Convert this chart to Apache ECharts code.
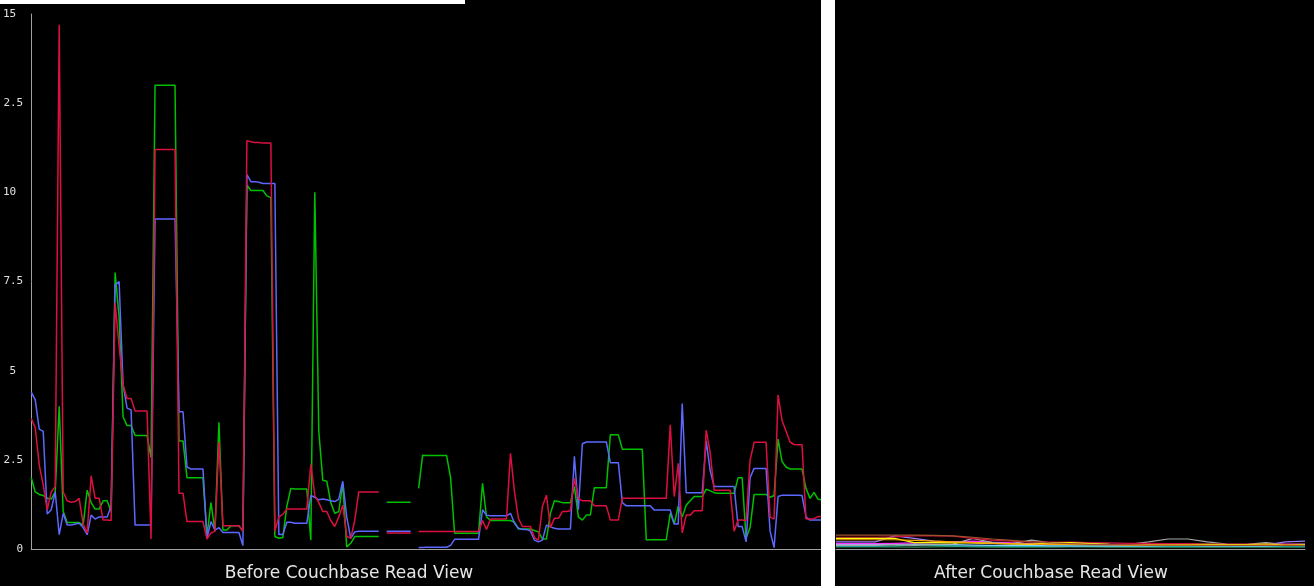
<!DOCTYPE html>
<html>
<head>
<meta charset="utf-8">
<script src="https://cdn.jsdelivr.net/npm/echarts@6/dist/echarts.min.js"></script>
<style>
  html, body { margin: 0; padding: 0; background: #000; }
  #chart { width: 1314px; height: 586px; }
</style>
</head>
<body>
<div id="chart"></div>
<script>
// tick labels as they show on the left axis (the "1" of 12.5 is cut off in the source)
var yTickValues = [0, 2.5, 5, 7.5, 10, 12.5, 15];
var yTickLabels = ['0', '2.5', '5', '7.5', '10', '2.5', '15'];
// these sit a bit further left than the others in the screenshot
var yShiftedTicks = [5, 10, 15];

var beforeTitle = 'Before Couchbase Read View';
var afterTitle = 'After Couchbase Read View';

// before: one sample every few seconds, null = no data
var beforeGreen = [
  2.0,1.6,1.53,1.5,1.42,1.4,1.6,4.0,1.05,0.74,
  0.74,0.74,0.74,0.67,1.65,1.3,1.12,1.12,1.35,1.35,
  1.05,7.75,6.5,3.7,3.46,3.46,3.18,3.18,3.18,3.18,
  2.56,13.0,13.0,13.0,13.0,13.0,13.0,3.03,3.03,2.0,
  2.0,2.0,2.0,2.0,0.37,1.3,0.5,3.55,0.53,0.53,
  0.65,0.65,0.65,0.5,10.2,10.05,10.05,10.05,10.05,9.9,
  9.85,0.35,0.3,0.32,1.2,1.7,1.68,1.68,1.68,1.68,
  0.25,10.0,3.3,1.93,1.9,1.3,1.0,1.05,1.84,0.06,
  0.16,0.35,0.35,0.35,0.35,0.35,0.35,0.35,null,1.31,
  1.31,1.31,1.31,1.31,1.31,1.31,null,1.7,2.63,2.62,
  2.62,2.62,2.62,2.62,2.62,2.0,0.44,0.44,0.44,0.44,
  0.44,0.44,0.44,1.84,0.9,0.8,0.8,0.8,0.8,0.8,
  0.8,0.75,0.56,0.56,0.56,0.56,0.52,0.48,0.28,0.28,
  1.0,1.35,1.33,1.3,1.3,1.3,1.75,0.9,0.81,0.95,
  0.95,1.72,1.72,1.72,1.72,3.2,3.2,3.2,2.8,2.8,
  2.8,2.8,2.8,2.8,0.26,0.26,0.26,0.26,0.26,0.26,
  1.0,0.7,1.2,0.9,1.23,1.35,1.47,1.47,1.47,1.68,
  1.63,1.58,1.56,1.56,1.56,1.56,1.56,2.0,2.0,0.3,
  0.6,1.53,1.53,1.53,1.53,1.45,1.5,3.08,2.45,2.3,
  2.24,2.24,2.24,2.24,1.7,1.42,1.59,1.4,1.37
];
var beforeBlue = [
  4.4,4.18,3.36,3.3,0.98,1.1,1.6,0.4,1.0,0.67,
  0.67,0.7,0.72,0.6,0.4,0.95,0.84,0.9,0.9,0.9,
  1.2,7.4,7.5,4.6,3.95,3.9,0.67,0.67,0.67,0.67,
  0.67,9.25,9.25,9.25,9.25,9.25,9.25,3.85,3.85,2.3,
  2.24,2.24,2.24,2.24,0.3,0.77,0.53,0.6,0.46,0.46,
  0.46,0.46,0.46,0.1,10.5,10.3,10.3,10.28,10.25,10.25,
  10.25,10.25,0.41,0.41,0.75,0.75,0.72,0.72,0.72,0.72,
  1.5,1.45,1.38,1.4,1.38,1.35,1.33,1.4,1.9,0.9,
  0.3,0.48,0.5,0.5,0.5,0.5,0.5,0.5,null,0.5,
  0.5,0.5,0.5,0.5,0.5,0.5,null,0.04,0.04,0.05,
  0.05,0.05,0.05,0.05,0.05,0.1,0.27,0.27,0.27,0.27,
  0.27,0.27,0.27,1.1,0.95,0.93,0.93,0.93,0.93,0.93,
  1.0,0.72,0.58,0.55,0.55,0.5,0.25,0.2,0.25,0.67,
  0.62,0.58,0.56,0.56,0.56,0.56,2.6,1.1,2.95,3.0,
  3.0,3.0,3.0,3.0,3.0,2.42,2.42,2.42,1.3,1.21,
  1.21,1.21,1.21,1.21,1.21,1.21,1.09,1.09,1.09,1.09,
  1.09,0.7,0.7,4.08,1.58,1.58,1.58,1.58,1.58,3.03,
  2.2,1.75,1.75,1.75,1.75,1.75,1.75,0.63,0.63,0.2,
  2.0,2.26,2.26,2.26,2.26,0.5,0.04,1.47,1.51,1.51,
  1.51,1.51,1.51,1.5,0.9,0.81,0.81,0.81,0.81
];
var beforeRed = [
  3.66,3.4,2.36,1.8,1.1,1.6,1.75,14.7,1.6,1.35,
  1.31,1.33,1.42,0.7,0.45,2.05,1.42,1.42,0.81,0.81,
  0.8,6.9,5.7,4.6,4.22,4.22,3.87,3.87,3.87,3.87,
  0.28,11.2,11.2,11.2,11.2,11.2,11.2,1.56,1.56,0.77,
  0.77,0.77,0.77,0.77,0.28,0.45,0.5,3.0,0.65,0.65,
  0.65,0.65,0.65,0.5,11.45,11.42,11.4,11.4,11.38,11.38,
  11.38,0.5,0.9,0.97,1.12,1.12,1.12,1.12,1.12,1.12,
  2.37,1.5,1.3,1.05,1.05,0.8,0.63,0.9,1.23,0.35,
  0.3,0.8,1.6,1.6,1.6,1.6,1.6,1.6,null,0.45,
  0.45,0.45,0.45,0.45,0.45,0.45,null,0.49,0.49,0.49,
  0.49,0.49,0.49,0.49,0.49,0.49,0.49,0.49,0.49,0.49,
  0.49,0.49,0.49,0.8,0.55,0.84,0.84,0.84,0.84,0.84,
  2.68,1.6,0.85,0.63,0.63,0.63,0.32,0.25,1.2,1.51,
  0.6,0.86,0.86,1.05,1.05,1.07,1.98,1.42,1.35,1.35,
  1.35,1.21,1.21,1.21,1.21,0.81,0.81,0.81,1.42,1.42,
  1.42,1.42,1.42,1.42,1.42,1.42,1.42,1.42,1.42,1.42,
  3.48,1.47,2.4,0.45,0.95,0.95,1.07,1.07,1.07,3.33,
  2.7,1.65,1.65,1.65,1.65,1.65,0.5,0.81,0.81,0.8,
  2.5,2.99,2.99,2.99,2.99,0.9,0.84,4.32,3.6,3.3,
  3.0,2.93,2.92,2.92,0.84,0.84,0.85,0.91,0.91
];

// after: many nodes, all well under half a second
var afterBrown   = [0.39,0.39,0.39,0.39,0.39,0.38,0.37,0.33,0.28,0.24,0.2,0.17,0.15,0.13,0.12,0.12,0.11,0.11,0.11,0.1,0.1,0.1,0.1,0.1,0.1];
var afterOrange  = [0.26,0.26,0.26,0.26,0.24,0.22,0.2,0.18,0.16,0.15,0.14,0.13,0.13,0.12,0.12,0.11,0.11,0.11,0.1,0.1,0.1,0.1,0.1,0.1,0.1];
var afterYellow  = [0.3,0.3,0.3,0.3,0.18,0.18,0.17,0.17,0.16,0.14,0.13,0.17,0.18,0.15,0.13,0.12,0.12,0.12,0.12,0.13,0.12,0.12,0.14,0.11,0.12];
var afterRed     = [0.33,0.33,0.33,0.34,0.37,0.37,0.36,0.3,0.25,0.22,0.2,0.19,0.19,0.18,0.17,0.16,0.16,0.15,0.15,0.14,0.14,0.14,0.13,0.13,0.13];
var afterGray    = [0.1,0.1,0.1,0.12,0.1,0.12,0.14,0.3,0.18,0.15,0.25,0.17,0.14,0.13,0.12,0.13,0.2,0.28,0.28,0.2,0.14,0.13,0.18,0.12,0.14];
var afterPurple  = [0.2,0.2,0.2,0.37,0.3,0.22,0.2,0.18,0.16,0.15,0.14,0.16,0.15,0.14,0.13,0.13,0.12,0.12,0.13,0.12,0.12,0.12,0.12,0.2,0.22];
var afterMagenta = [0.15,0.15,0.15,0.16,0.17,0.18,0.2,0.22,0.19,0.17,0.15,0.14,0.13,0.13,0.12,0.12,0.12,0.11,0.11,0.11,0.11,0.12,0.13,0.14,0.13];
var afterSky     = [0.12,0.12,0.12,0.13,0.14,0.13,0.12,0.11,0.1,0.1,0.1,0.09,0.09,0.09,0.09,0.09,0.09,0.1,0.1,0.09,0.09,0.09,0.09,0.1,0.1];
var afterTeal    = [0.08,0.08,0.08,0.09,0.12,0.1,0.09,0.08,0.08,0.07,0.07,0.08,0.08,0.07,0.07,0.07,0.07,0.07,0.07,0.08,0.08,0.07,0.07,0.08,0.08];
var afterGreen   = [0.06,0.06,0.06,0.06,0.05,0.06,0.07,0.06,0.05,0.05,0.05,0.05,0.06,0.06,0.05,0.05,0.05,0.05,0.05,0.05,0.05,0.05,0.05,0.05,0.05];

var chart = echarts.init(document.getElementById('chart'));

var beforeX = beforeRed.map(function (v, i) { return i; });
var afterX = afterBrown.map(function (v, i) { return i; });

function line(name, data, color, grid, width) {
  return {
    name: name,
    type: 'line',
    xAxisIndex: grid,
    yAxisIndex: grid,
    data: data,
    showSymbol: false,
    connectNulls: false,
    lineStyle: { color: color, width: width || 1.5 },
    itemStyle: { color: color }
  };
}

var titleStyle = { color: '#e6e6e6', fontFamily: 'DejaVu Sans', fontSize: 17, fontWeight: 'normal' };

var option = {
  backgroundColor: '#000',
  animation: false,
  title: [
    { text: beforeTitle, left: 344, top: 560, textAlign: 'center', textStyle: titleStyle },
    { text: afterTitle, left: 1046, top: 560, textAlign: 'center', textStyle: titleStyle }
  ],
  grid: [
    { left: 30, top: 14, width: 792, bottom: 37 },
    { left: 836, top: 14, width: 469, bottom: 37 }
  ],
  xAxis: [
    {
      type: 'category', gridIndex: 0, data: beforeX, boundaryGap: false,
      axisLine: { lineStyle: { color: '#a0a0a0', width: 1 } },
      axisTick: { show: false }, axisLabel: { show: false }, splitLine: { show: false }
    },
    {
      type: 'category', gridIndex: 1, data: afterX, boundaryGap: false,
      axisLine: { lineStyle: { color: '#a0a0a0', width: 1 } },
      axisTick: { show: false }, axisLabel: { show: false }, splitLine: { show: false }
    }
  ],
  yAxis: [
    {
      type: 'value', gridIndex: 0, min: 0, max: 15, interval: 2.5,
      axisLine: { show: true, lineStyle: { color: '#a0a0a0', width: 1 } },
      axisTick: { show: false }, splitLine: { show: false },
      axisLabel: {
        color: '#e0e0e0', fontFamily: 'DejaVu Sans Mono', fontSize: 11, margin: 8,
        formatter: function (v) {
          var k = yTickValues.indexOf(v);
          if (k < 0) return '';
          return yShiftedTicks.indexOf(v) >= 0 ? '{s|' + yTickLabels[k] + '}' : yTickLabels[k];
        },
        rich: {
          s: { color: '#e0e0e0', fontFamily: 'DejaVu Sans Mono', fontSize: 11, padding: [0, 7, 0, 0] }
        }
      }
    },
    {
      type: 'value', gridIndex: 1, min: 0, max: 15, interval: 2.5,
      axisLine: { show: false }, axisTick: { show: false },
      axisLabel: { show: false }, splitLine: { show: false }
    }
  ],
  graphic: [
    { type: 'rect', left: 0, top: 0, shape: { width: 465, height: 4 }, style: { fill: '#fff' }, z: 100 },
    { type: 'rect', left: 821, top: 0, shape: { width: 14, height: 586 }, style: { fill: '#fff' }, z: 100 }
  ],
  series: [
    line('green', beforeGreen, '#00c000', 0),
    line('blue', beforeBlue, '#5c68ff', 0),
    line('red', beforeRed, '#dc1040', 0),
    line('a-green', afterGreen, '#2e8b57', 1, 1.2),
    line('a-teal', afterTeal, '#20b2aa', 1, 1.2),
    line('a-sky', afterSky, '#87cefa', 1, 1.2),
    line('a-magenta', afterMagenta, '#ff33ff', 1, 1.2),
    line('a-purple', afterPurple, '#9a7fff', 1, 1.2),
    line('a-gray', afterGray, '#a8a8a8', 1, 1.2),
    line('a-red', afterRed, '#d01040', 1, 1.2),
    line('a-yellow', afterYellow, '#ffff00', 1, 1.2),
    line('a-orange', afterOrange, '#ffa500', 1, 1.2),
    line('a-brown', afterBrown, '#a0522d', 1, 1.2)
  ]
};

chart.setOption(option);
</script>
</body>
</html>
